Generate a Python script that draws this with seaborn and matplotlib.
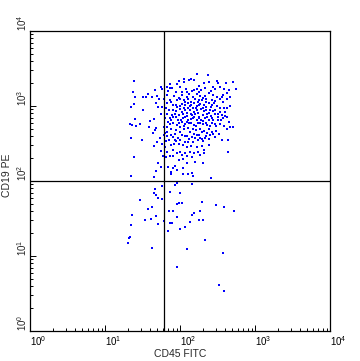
import matplotlib
matplotlib.use("Agg")
import matplotlib.pyplot as plt
import matplotlib.ticker as mticker
import numpy as np
import pandas as pd
import seaborn as sns

# Events, as log10 fluorescence (CD45 FITC, CD19 PE)
upper_left = [
    (1.38, 3.33), (1.37, 3.19), (1.40, 3.12), (1.38, 3.03), (1.34, 2.99),
    (1.51, 3.12), (1.54, 3.12), (1.57, 3.16), (1.62, 3.12), (1.67, 3.21),
    (1.69, 3.14), (1.74, 3.25), (1.76, 3.22), (1.72, 3.09), (1.68, 3.04),
    (1.70, 2.99), (1.76, 2.99), (1.75, 2.90), (1.51, 2.95), (1.40, 2.83),
    (1.33, 2.76), (1.36, 2.74), (1.41, 2.73), (1.47, 2.76), (1.59, 2.72),
    (1.65, 2.83), (1.68, 2.71), (1.60, 2.80), (1.34, 2.58), (1.49, 2.55),
    (1.64, 2.64), (1.67, 2.68), (1.65, 2.47), (1.69, 2.52), (1.73, 2.58),
    (1.76, 2.50), (1.38, 2.32), (1.74, 2.40), (1.77, 2.33), (1.70, 2.24),
    (1.75, 2.19), (1.68, 2.14), (1.65, 2.06), (1.35, 2.07),
]

upper_right = [
    # top edge of the B-cell cluster
    (2.22, 3.43), (2.37, 3.41), (2.15, 3.36), (2.18, 3.35), (2.12, 3.35),
    (2.05, 3.36), (2.05, 3.32), (1.98, 3.33), (1.96, 3.29), (1.87, 3.29),
    (2.00, 3.25), (2.32, 3.31), (2.39, 3.32), (2.49, 3.33), (2.51, 3.31),
    (2.70, 3.32), (2.61, 3.31), (2.44, 3.26), (2.46, 3.22), (2.53, 3.26),
    (2.58, 3.22), (2.74, 3.23), (2.65, 3.21), (2.26, 3.27), (2.23, 3.23),
    (2.19, 3.21), (2.28, 3.21), (2.25, 3.19), (2.16, 3.20), (2.09, 3.19),
    (2.03, 3.19), (1.94, 3.19), (1.86, 3.24), (1.82, 3.25), (1.84, 3.20),
    (1.89, 3.24),
    (1.82, 3.15), (1.92, 3.13), (1.96, 3.08), (2.02, 3.15), (2.09, 3.12),
    (2.12, 3.16), (2.17, 3.12), (2.22, 3.16), (2.27, 3.13), (2.33, 3.13),
    (2.35, 3.09), (2.38, 3.17), (2.44, 3.15), (2.49, 3.12), (2.53, 3.10),
    (2.62, 3.09), (2.67, 3.12), (2.56, 3.12), (1.79, 3.10), (1.87, 3.08),
    (2.00, 3.09), (2.05, 3.08), (2.25, 3.08), (2.29, 3.08),
    (1.83, 3.04), (1.88, 3.06), (1.91, 3.01), (1.96, 2.99), (2.02, 3.03),
    (2.07, 3.01), (2.10, 3.04), (2.13, 3.00), (2.19, 3.04), (2.23, 3.00),
    (2.27, 3.03), (2.32, 3.01), (2.38, 3.04), (2.41, 2.99), (2.45, 3.04),
    (2.49, 3.00), (2.53, 2.97), (2.59, 2.98), (2.67, 3.00), (1.81, 2.97),
    (1.85, 2.95), (1.91, 2.95), (2.00, 2.96), (2.07, 2.95), (2.13, 2.95),
    (2.17, 2.97), (2.22, 2.95), (2.28, 2.96), (2.35, 2.95), (2.40, 2.95),
    (2.47, 2.95), (2.53, 2.92), (2.60, 2.92),
    (1.82, 2.90), (1.89, 2.88), (1.93, 2.90), (1.99, 2.88), (2.04, 2.89),
    (2.09, 2.87), (2.16, 2.88), (2.20, 2.89), (2.25, 2.86), (2.30, 2.88),
    (2.36, 2.89), (2.41, 2.87), (2.47, 2.90), (2.51, 2.85), (2.56, 2.88),
    (2.60, 2.87), (1.80, 2.84), (1.86, 2.84), (1.91, 2.85), (1.97, 2.82),
    (2.04, 2.84), (2.11, 2.82), (2.17, 2.84), (2.22, 2.81), (2.28, 2.82),
    (2.33, 2.84), (2.39, 2.81), (2.44, 2.82), (2.50, 2.82), (2.57, 2.84),
    (2.62, 2.86),
    (1.84, 2.79), (1.90, 2.78), (1.96, 2.75), (2.02, 2.79), (2.07, 2.76),
    (2.12, 2.78), (2.18, 2.75), (2.24, 2.78), (2.31, 2.76), (2.36, 2.75),
    (2.42, 2.77), (2.48, 2.73), (2.53, 2.76), (2.59, 2.73), (2.65, 2.79),
    (2.67, 2.72), (2.62, 2.70), (2.70, 2.72), (1.82, 2.72), (1.88, 2.70),
    (1.94, 2.68), (2.00, 2.72), (2.05, 2.69), (2.11, 2.71), (2.17, 2.70),
    (2.21, 2.68), (2.27, 2.70), (2.32, 2.67), (2.38, 2.70), (2.43, 2.66),
    (2.48, 2.67), (2.52, 2.63), (2.36, 2.64), (2.29, 2.66), (1.82, 2.66),
    (1.78, 2.72), (1.80, 2.64), (1.79, 2.61),
    (1.83, 2.60), (1.88, 2.61), (1.91, 2.59), (1.97, 2.58), (2.03, 2.62),
    (2.09, 2.60), (2.16, 2.59), (2.22, 2.61), (2.27, 2.58), (2.33, 2.57),
    (2.40, 2.61), (2.47, 2.59), (2.56, 2.55), (2.64, 2.55), (1.85, 2.55),
    (1.93, 2.55), (2.00, 2.55), (2.07, 2.52), (2.11, 2.52), (2.17, 2.52),
    (2.24, 2.55), (2.29, 2.56), (2.39, 2.56), (1.88, 2.48), (1.92, 2.49),
    (1.98, 2.50), (2.04, 2.48), (2.09, 2.46), (2.14, 2.47), (2.22, 2.46),
    (2.29, 2.47), (2.38, 2.48), (1.81, 2.54), (1.80, 2.46),
    # thinning tail towards the CD19 gate
    (1.82, 2.39), (1.90, 2.41), (1.96, 2.37), (2.00, 2.39), (2.07, 2.37),
    (2.13, 2.39), (2.18, 2.38), (2.24, 2.39), (2.32, 2.41), (2.32, 2.37),
    (2.27, 2.35), (2.09, 2.33), (2.04, 2.29), (2.16, 2.32), (2.20, 2.26),
    (2.30, 2.24), (1.98, 2.28), (1.91, 2.33), (1.81, 2.32), (2.64, 2.39),
    (1.86, 2.33), (2.02, 2.35),
    (1.84, 2.19), (1.90, 2.18), (1.93, 2.20), (1.96, 2.15), (1.88, 2.12),
    (1.88, 2.09), (2.04, 2.09), (2.11, 2.10), (2.17, 2.07), (2.16, 2.11),
    (2.41, 2.04), (2.04, 2.17), (2.09, 2.24),
]

# extra events in the crowded core, where single dots merge together
upper_right_core = [
    (1.99, 3.11), (2.06, 3.06), (2.11, 3.09), (2.15, 3.05), (2.20, 3.10),
    (2.24, 3.06), (2.30, 3.11), (2.35, 3.05), (2.42, 3.08), (2.47, 3.07),
    (1.94, 3.02), (2.00, 3.00), (2.05, 2.98), (2.10, 2.97), (2.15, 3.02),
    (2.21, 2.98), (2.25, 3.01), (2.30, 2.97), (2.34, 2.99), (2.43, 3.01),
    (1.95, 2.93), (2.03, 2.92), (2.09, 2.91), (2.14, 2.90), (2.19, 2.92),
    (2.24, 2.91), (2.32, 2.93), (2.38, 2.91), (2.44, 2.93), (2.50, 2.89),
    (1.88, 2.81), (1.94, 2.86), (2.01, 2.81), (2.07, 2.86), (2.14, 2.83),
    (2.19, 2.86), (2.26, 2.84), (2.31, 2.80), (2.36, 2.85), (2.42, 2.84),
    (1.86, 2.76), (1.99, 2.77), (2.05, 2.73), (2.09, 2.79), (2.15, 2.77),
    (2.21, 2.73), (2.27, 2.77), (2.34, 2.78), (2.40, 2.73), (2.46, 2.76),
    (1.93, 2.63), (2.00, 2.65), (2.06, 2.60), (2.13, 2.65), (2.19, 2.63),
    (2.25, 2.62), (2.35, 2.60), (2.44, 2.63), (1.95, 2.53), (2.12, 2.56),
    (2.20, 2.57), (2.31, 2.53), (2.57, 3.05), (2.62, 2.97), (2.55, 2.81),
    (2.63, 3.18), (2.41, 3.20), (2.08, 3.22), (2.33, 3.24), (2.57, 3.15),
]

lower = [
    (1.67, 1.90), (1.76, 1.94), (1.65, 1.84), (1.68, 1.82), (1.70, 1.77),
    (1.76, 1.76), (1.47, 1.75), (1.96, 1.97), (1.93, 1.95), (1.87, 1.86),
    (2.00, 1.84), (2.16, 1.96), (1.96, 1.70), (1.99, 1.71), (2.02, 1.71),
    (2.29, 1.72), (2.48, 1.68), (2.58, 1.65), (2.72, 1.60), (1.57, 1.63),
    (1.62, 1.66), (1.85, 1.60), (1.91, 1.60), (2.18, 1.58), (2.16, 1.55),
    (2.27, 1.60), (1.36, 1.55), (1.61, 1.50), (1.53, 1.48), (1.68, 1.53),
    (1.78, 1.47), (1.70, 1.43), (1.34, 1.41), (1.87, 1.44), (1.89, 1.44),
    (1.96, 1.52), (2.13, 1.46), (2.25, 1.48), (2.31, 1.48), (2.07, 1.39),
    (2.00, 1.36), (1.84, 1.34), (1.33, 1.26), (1.32, 1.24), (1.30, 1.17),
    (1.63, 1.11), (2.33, 1.22), (2.09, 1.10), (2.57, 1.04), (1.96, 0.86),
    (2.52, 0.61), (2.58, 0.54),
]

cd45_gate = 61.7
cd19_gate = 100.0
decades = [0, 1, 2, 3, 4]
tick_labels = [f"$10^{{{d}}}$" for d in decades]

events = pd.DataFrame(upper_left + upper_right + upper_right_core + lower,
                      columns=["cd45", "cd19"])
events["CD45 FITC"] = 10 ** events["cd45"]
events["CD19 PE"] = 10 ** events["cd19"]

sns.set_style("white")
plt.rcParams["font.family"] = ["Liberation Sans", "DejaVu Sans"]
plt.rcParams["mathtext.default"] = "regular"

fig = plt.figure(figsize=(3.6, 3.61), dpi=100)
ax = fig.add_axes([30 / 360, 30 / 361, 300 / 360, 300 / 361])

sns.scatterplot(data=events, x="CD45 FITC", y="CD19 PE", ax=ax,
                marker="s", s=4.5, color="#0000ff", linewidth=0, legend=False)

ax.set_xscale("log")
ax.set_yscale("log")
ax.set_xlim(10 ** decades[0], 10 ** decades[-1])
ax.set_ylim(10 ** decades[0], 10 ** decades[-1])

ax.axvline(cd45_gate, color="black", lw=0.9)
ax.axhline(cd19_gate, color="black", lw=0.9)

for side in ax.spines.values():
    side.set_color("black")
    side.set_linewidth(0.9)

major = [10.0 ** d for d in decades]
ax.set_xticks(major)
ax.set_yticks(major)
ax.set_xticklabels(tick_labels)
ax.set_yticklabels([])
ax.xaxis.set_minor_locator(mticker.LogLocator(base=10, subs=np.arange(2, 10)))
ax.yaxis.set_minor_locator(mticker.LogLocator(base=10, subs=np.arange(2, 10)))
ax.xaxis.set_minor_formatter(mticker.NullFormatter())
ax.yaxis.set_minor_formatter(mticker.NullFormatter())
ax.tick_params(which="both", direction="in", colors="black", labelsize=7,
               top=False, right=False, left=True, bottom=True, width=0.7)
ax.tick_params(which="major", length=4, pad=2)
ax.tick_params(which="minor", length=2)
for lab in ax.get_xticklabels():
    lab.set_horizontalalignment("left")

# y tick labels run upwards from each decade, as on the cytometer printout
ytrans = ax.get_yaxis_transform()
for d, lab in zip(decades, tick_labels):
    ax.text(-0.027, 10.0 ** d, lab, transform=ytrans, rotation=90,
            ha="center", va="bottom", fontsize=7, clip_on=False)

ax.set_xlabel("CD45 FITC", fontsize=7.5, labelpad=1)
ax.set_ylabel("CD19 PE", fontsize=7.5)
ax.yaxis.set_label_coords(-0.06, 0.52)

fig.savefig("out.png", dpi=100)
